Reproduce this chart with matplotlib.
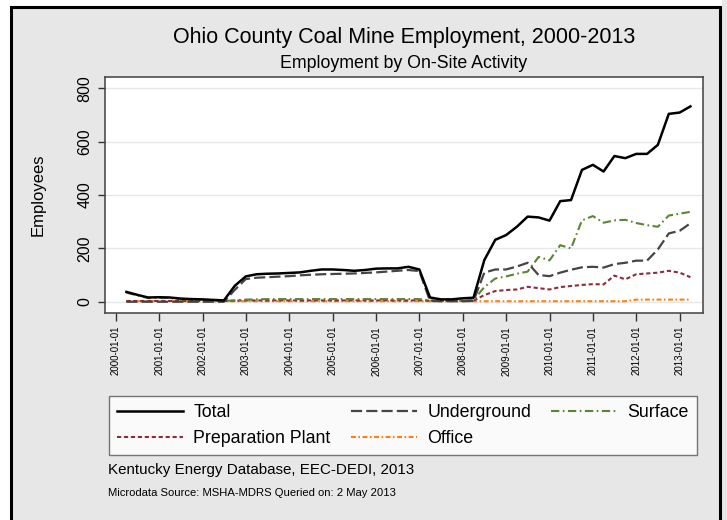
import matplotlib
matplotlib.use("Agg")
import matplotlib.pyplot as plt
import matplotlib.dates as mdates
from matplotlib.patches import Rectangle
import pandas as pd

plt.rcParams['font.family'] = ['Liberation Sans', 'DejaVu Sans']
plt.rcParams['lines.scale_dashes'] = False

# Quarterly observations, 2000Q1 .. 2013Q1 (plotted at quarter end)
quarters = pd.date_range('2000-03-31', periods=53, freq='QE')

total = [37, 26, 16, 17, 16, 12, 10, 9, 7, 5,
         60, 95, 103, 105, 106, 108, 110, 116, 121, 121,
         119, 116, 119, 124, 125, 125, 131, 121, 16, 9,
         9, 13, 15, 156, 232, 250, 281, 319, 316, 304,
         377, 381, 494, 513, 488, 546, 538, 554, 554, 588,
         704, 709, 732]
underground = [0, 0, 0, 0, 0, 0, 0, 0, 0, 0,
               45, 85, 90, 92, 94, 96, 99, 101, 103, 104,
               105, 106, 108, 110, 113, 116, 119, 115, 3, 2,
               2, 2, 3, 109, 121, 121, 132, 146, 100, 96,
               109, 120, 129, 131, 128, 141, 146, 154, 154, 196,
               256, 266, 294]
surface = [34, 24, 14, 15, 14, 9, 8, 7, 5, 3,
           5, 8, 9, 10, 10, 10, 10, 10, 10, 10,
           10, 10, 10, 10, 10, 10, 10, 10, 5, 3,
           3, 4, 6, 55, 87, 95, 105, 113, 168, 155,
           212, 200, 305, 321, 296, 305, 307, 295, 287, 281,
           323, 330, 337]
prep_plant = [3, 3, 3, 3, 3, 3, 3, 3, 3, 3,
              4, 5, 5, 5, 5, 5, 5, 5, 5, 5,
              5, 5, 5, 5, 5, 5, 5, 5, 4, 4,
              4, 4, 4, 25, 40, 44, 46, 56, 51, 46,
              55, 59, 63, 66, 65, 98, 84, 103, 106, 109,
              116, 109, 92]
office = [2, 2, 2, 2, 2, 2, 2, 2, 2, 2,
          2, 2, 2, 2, 2, 2, 2, 2, 2, 2,
          2, 2, 2, 2, 2, 2, 2, 2, 2, 2,
          2, 2, 2, 2, 2, 2, 2, 2, 2, 2,
          2, 2, 2, 2, 2, 2, 2, 8, 8, 8,
          8, 8, 8]

y_ticks = [0, 200, 400, 600, 800]
title = "Ohio County Coal Mine Employment, 2000-2013"
subtitle = "Employment by On-Site Activity"

W, H = 727, 520
fig = plt.figure(figsize=(W / 100, H / 100), dpi=100, facecolor='white')

# outer panel
fig.add_artist(Rectangle((11 / W, -0.05), (720 - 11) / W, (520 - 7) / H + 0.05,
                         transform=fig.transFigure, facecolor='#e7e7e7',
                         edgecolor='black', lw=2.2, zorder=-10))
fig.add_artist(Rectangle((721.5 / W, 0), 10 / W, 1, transform=fig.transFigure,
                         facecolor='#e7e7e7', edgecolor='none', zorder=-11))

ax = fig.add_axes([105 / W, 1 - 312.7 / H, 598 / W, (312.7 - 77.3) / H])
ax.set_facecolor('white')

ax.plot(quarters, total, color='black', lw=1.8, label='Total', zorder=6)
ax.plot(quarters, underground, color='#454545', lw=1.6, dashes=(8, 3),
        label='Underground', zorder=5)
ax.plot(quarters, surface, color='#5b8433', lw=1.5, dashes=(6, 2.5, 1.2, 2.5),
        label='Surface', zorder=4)
ax.plot(quarters, prep_plant, color='#8b2d3d', lw=1.5, dashes=(3, 2),
        label='Preparation Plant', zorder=3)
ax.plot(quarters, office, color='#ff8010', lw=1.5, dashes=(3.5, 1.8, 1.2, 1.8),
        label='Office', zorder=2)

ax.set_xlim(pd.Timestamp('1999-10-03'), pd.Timestamp('2013-07-15'))
ax.set_ylim(-41, 841)
ax.set_yticks(y_ticks)
ax.yaxis.grid(True, color='#e4e8e8', lw=1)
ax.set_axisbelow(True)

ax.xaxis.set_major_locator(mdates.YearLocator())
ax.xaxis.set_major_formatter(mdates.DateFormatter('%Y-%m-%d'))
ax.tick_params(axis='x', labelrotation=90, labelsize=7, length=5.5, width=1,
               color='#333333', pad=4)
ax.tick_params(axis='y', labelsize=11.5, length=5, width=1, color='#333333', pad=4)
for lab in ax.get_yticklabels():
    lab.set_rotation(90)
    lab.set_va('center')

for s in ax.spines.values():
    s.set_color('#404040')
    s.set_linewidth(1.1)

ax.set_ylabel('Employees', fontsize=12)
ax.yaxis.set_label_coords((46 - 105) / 598, 0.5)

fig.text(404 / W, 1 - 38 / H, title, ha='center', va='center', fontsize=15.5)
fig.text(404 / W, 1 - 63 / H, subtitle, ha='center', va='center', fontsize=12.8)

h, l = ax.get_legend_handles_labels()
order = [0, 3, 1, 4, 2]
leg = fig.legend([h[i] for i in order], [l[i] for i in order], ncol=3,
                 loc='lower left', mode='expand',
                 bbox_to_anchor=(109 / W, 1 - 455 / H, 588 / W, 58 / H),
                 fontsize=12.8, handlelength=3.7, handletextpad=0.6,
                 frameon=True, fancybox=False, borderaxespad=0,
                 labelspacing=0.5, borderpad=0.45)
leg.get_frame().set_edgecolor('#555555')
leg.get_frame().set_linewidth(1)
leg.get_frame().set_facecolor('white')

fig.text(108 / W, 1 - 470 / H, "Kentucky Energy Database, EEC-DEDI, 2013",
         ha='left', va='center', fontsize=10.9)
fig.text(108 / W, 1 - 493 / H, "Microdata Source: MSHA-MDRS Queried on: 2 May 2013",
         ha='left', va='center', fontsize=8.1)

fig.savefig('out.png', dpi=100, facecolor=fig.get_facecolor())
